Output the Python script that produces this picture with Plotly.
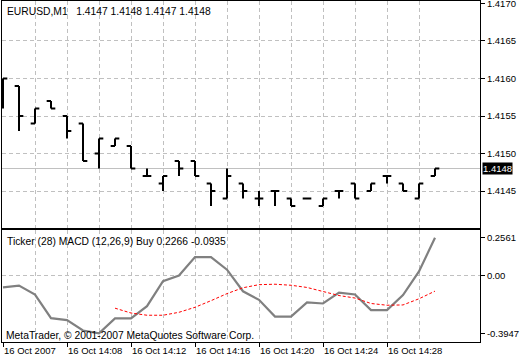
import pandas as pd
import plotly.graph_objects as go

# ---------------- data ----------------
times = pd.date_range("2007-10-16 14:04", periods=28, freq="min")

opens = [1.4157, 1.4159, 1.4154, 1.4157, 1.4155, 1.4154, 1.4150, 1.4151, 1.4151, 1.4147,
         1.4146, 1.4149, 1.4149, 1.4146, 1.4144, 1.4146, 1.4144, 1.4145, 1.4144, 1.4144,
         1.4143, 1.4145, 1.4146, 1.4145, 1.4147, 1.4146, 1.4144, 1.4147]
highs = [1.4160, 1.4159, 1.4156, 1.4157, 1.4155, 1.4154, 1.4152, 1.4152, 1.4151, 1.4148,
         1.4147, 1.4149, 1.4149, 1.4146, 1.4148, 1.4146, 1.4145, 1.4145, 1.4144, 1.4144,
         1.4144, 1.4145, 1.4146, 1.4146, 1.4147, 1.4146, 1.4146, 1.4148]
lows = [1.4156, 1.4153, 1.4154, 1.4156, 1.4152, 1.4149, 1.4148, 1.4151, 1.4148, 1.4147,
        1.4145, 1.4147, 1.4147, 1.4143, 1.4144, 1.4144, 1.4143, 1.4143, 1.4143, 1.4144,
        1.4143, 1.4144, 1.4144, 1.4145, 1.4146, 1.4145, 1.4144, 1.4147]
closes = [1.4160, 1.4155, 1.4156, 1.4156, 1.4153, 1.4149, 1.4152, 1.4152, 1.4148, 1.4147,
          1.4147, 1.4148, 1.4147, 1.4145, 1.4147, 1.4145, 1.4144, 1.4145, 1.4143, 1.4144,
          1.4144, 1.4145, 1.4144, 1.4146, 1.4147, 1.4145, 1.4146, 1.4148]

macd_main = [-0.082, -0.069, -0.130, -0.291, -0.304, -0.375, -0.3947, -0.293, -0.293, -0.209,
             -0.039, -0.001, 0.125, 0.125, 0.039, -0.108, -0.166, -0.280, -0.280, -0.184,
             -0.191, -0.117, -0.130, -0.236, -0.236, -0.134, 0.027, 0.2561]
macd_signal = [None] * 7 + [-0.223, -0.256, -0.271, -0.271, -0.251, -0.217, -0.172, -0.124,
                            -0.084, -0.063, -0.060, -0.067, -0.082, -0.110, -0.137, -0.154,
                            -0.191, -0.203, -0.201, -0.159, -0.107]

price_ticks = [1.4145, 1.4150, 1.4155, 1.4160, 1.4165, 1.4170]
price_grid = [1.4145, 1.4150, 1.4155, 1.4160, 1.4165]
macd_ticks = [0.2561, 0.0, -0.3947]
macd_ticktext = ["0.2561", "0.00", "-0.3947"]
time_tick_idx = [0, 4, 8, 12, 16, 20, 24]
time_ticktext = ["16 Oct 2007", "16 Oct 14:08", "16 Oct 14:12", "16 Oct 14:16",
                 "16 Oct 14:20", "16 Oct 14:24", "16 Oct 14:28"]

symbol_label = "EURUSD,M1"
indicator_label = "Ticker (28) MACD (12,26,9) Buy 0.2266 -0.0935"
copyright_label = "MetaTrader, \u00a9 2001-2007 MetaQuotes Software Corp."

# ---------------- style ----------------
FONT = "Liberation Sans, Arial, sans-serif"
FS = 9.5
FS_TEXT = 10.3
GRID = "#c0c0c0"
DASH = "4px,3px"

minute = pd.Timedelta(minutes=1)
x_range = [times[0] - minute * 0.0625, times[0] + minute * 29.8125]

fig = go.Figure()

fig.add_trace(go.Ohlc(
    x=times, open=opens, high=highs, low=lows, close=closes,
    increasing=dict(line=dict(color="black", width=2)),
    decreasing=dict(line=dict(color="black", width=2)),
    tickwidth=0.27, xaxis="x", yaxis="y", showlegend=False, hoverinfo="skip",
))

fig.add_trace(go.Scatter(
    x=times, y=macd_main, mode="lines",
    line=dict(color="#808080", width=2.2), xaxis="x2", yaxis="y2", showlegend=False,
))
fig.add_trace(go.Scatter(
    x=times, y=macd_signal, mode="lines",
    line=dict(color="#ff0000", width=1, dash="3px,2px"), xaxis="x2", yaxis="y2",
    showlegend=False,
))

# bid line
fig.add_shape(type="line", xref="x domain", yref="y", x0=0, x1=1,
              y0=closes[-1], y1=closes[-1], line=dict(color=GRID, width=1), layer="below")

axis_common = dict(showline=True, linecolor="black", linewidth=1, mirror=True,
                   zeroline=False, automargin=False)

tickvals_t = [times[i] for i in time_tick_idx]
minor_t = [times[i] for i in range(2, 28, 4)]

fig.update_layout(
    width=520, height=360,
    margin=dict(l=2, r=40, t=1, b=18),
    paper_bgcolor="white", plot_bgcolor="white",
    font=dict(family=FONT, size=FS, color="black"),
    showlegend=False,
    xaxis=dict(domain=[0, 1], anchor="y", range=x_range, type="date",
               tickvals=tickvals_t, showticklabels=False, ticks="",
               showgrid=True, gridcolor=GRID, griddash=DASH, gridwidth=1,
               minor=dict(tickvals=minor_t, showgrid=True, gridcolor=GRID,
                          griddash=DASH, ticks=""),
               rangeslider=dict(visible=False), **axis_common),
    yaxis=dict(domain=[0.3343, 1], anchor="x", side="right",
               range=[1.414007, 1.417033],
               tickvals=price_ticks, ticktext=[f"{v:.4f}" for v in price_ticks],
               ticks="outside", ticklen=4, tickcolor="black", showgrid=False,
               ticklabeloverflow="allow",
               minor=dict(tickvals=price_grid, showgrid=True, gridcolor=GRID,
                          griddash=DASH, ticks=""),
               **axis_common),
    xaxis2=dict(domain=[0, 1], anchor="y2", matches="x", type="date",
                tickvals=tickvals_t, ticktext=time_ticktext, tickangle=0,
                ticks="outside", ticklen=4, tickcolor="black",
                ticklabelposition="outside right", ticklabeloverflow="allow",
                showgrid=True, gridcolor=GRID, griddash=DASH,
                minor=dict(tickvals=minor_t, showgrid=True, gridcolor=GRID,
                           griddash=DASH, ticks=""),
                **axis_common),
    yaxis2=dict(domain=[0, 0.3284], anchor="x2", side="right",
                range=[-0.4531, 0.3088],
                tickvals=macd_ticks, ticktext=macd_ticktext,
                ticks="outside", ticklen=4, tickcolor="black", showgrid=False,
                ticklabeloverflow="allow",
                minor=dict(tickvals=[0.0], showgrid=True, gridcolor=GRID,
                           griddash=DASH, ticks=""),
                **axis_common),
)

title_text = (symbol_label + "\u00a0\u00a0 " +
              " ".join(f"{v:.4f}" for v in (opens[-1], highs[-1], lows[-1], closes[-1])))

fig.add_annotation(xref="x domain", yref="y domain", x=0, y=1, xshift=3, yshift=-10,
                   xanchor="left", yanchor="middle", text=title_text, showarrow=False,
                   font=dict(size=FS_TEXT))
fig.add_annotation(xref="x2 domain", yref="y2 domain", x=0, y=1, xshift=3, yshift=-11,
                   xanchor="left", yanchor="middle", text=indicator_label, showarrow=False,
                   font=dict(size=FS_TEXT))
fig.add_annotation(xref="x2 domain", yref="y2 domain", x=0, y=0, xshift=2, yshift=7,
                   xanchor="left", yanchor="middle", text=copyright_label, showarrow=False,
                   font=dict(size=FS_TEXT))
fig.add_annotation(xref="x domain", yref="y", x=1, y=closes[-1], xshift=2,
                   xanchor="left", yanchor="middle", text=f"{closes[-1]:.4f}",
                   showarrow=False, bgcolor="black", font=dict(color="white"),
                   borderpad=0)

fig.write_html(
    "out.html",
    config={"displayModeBar": False},
    post_script="document.body.style.margin='0';document.body.style.overflow='hidden';",
)
